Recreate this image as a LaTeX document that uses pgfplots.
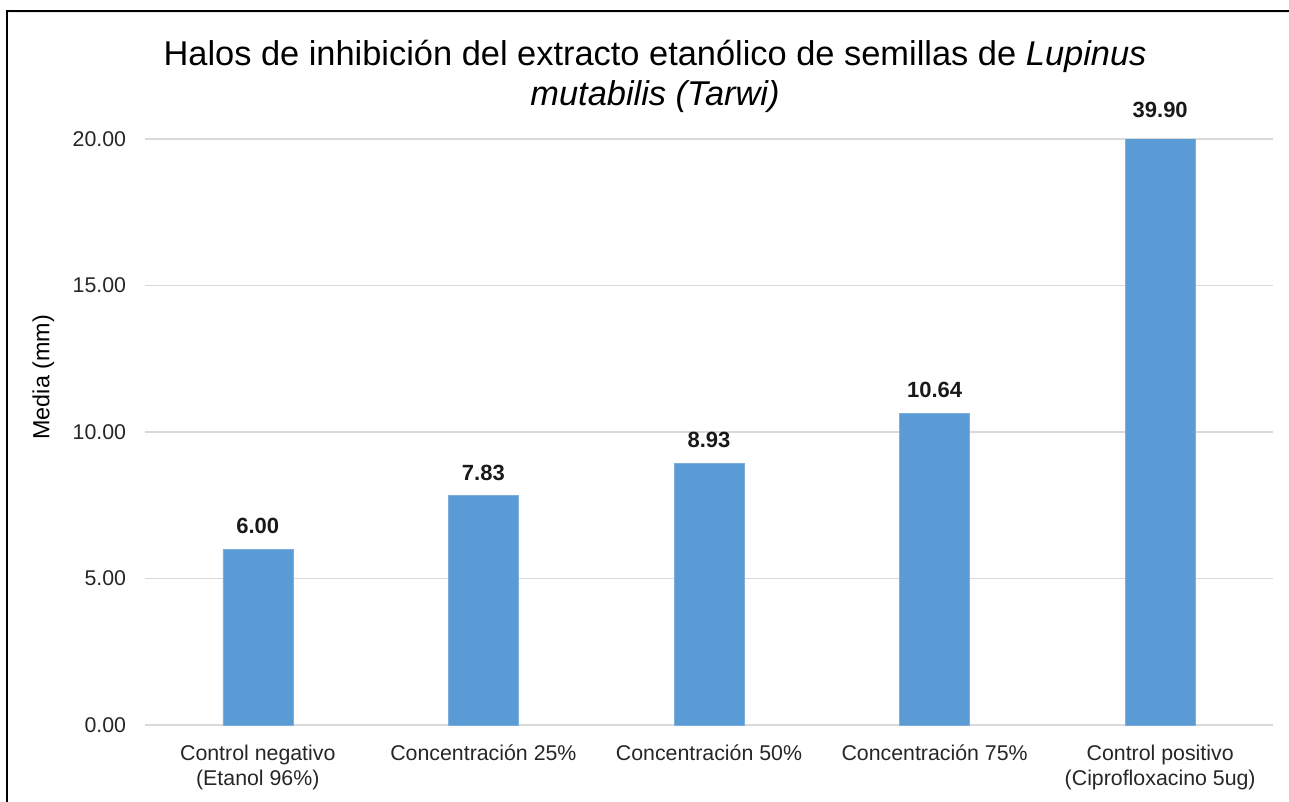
\documentclass[border=0pt]{standalone}
\usepackage{pgfplots}
\pgfplotsset{compat=1.18}
\usepackage{fontspec}
\setmainfont{Liberation Sans}
\definecolor{barblue}{RGB}{91,155,213}
\definecolor{gridgray}{RGB}{217,217,217}
\begin{document}
\begin{tikzpicture}
\path[use as bounding box] (0pt,0pt) rectangle (966.75pt,-601.5pt);
\draw[black, line width=1.5pt] (5.6pt,-601.5pt) -- (5.6pt,-7.9pt) -- (966.75pt,-7.9pt);
\draw[gridgray!60, line width=1pt] (6.5pt,-9.6pt) -- (966.75pt,-9.6pt);
\node[anchor=base, font={\fontsize{25.8}{30}\selectfont}] at (491.25pt,-49.5pt)
  {Halos de inhibición del extracto etanólico de semillas de \textit{Lupinus}};
\node[anchor=base, font={\fontsize{25.8}{30}\selectfont\itshape}] at (491.25pt,-79.5pt)
  {mutabilis (Tarwi)};
\node[rotate=90, font={\fontsize{17.5}{20}\selectfont}] at (32.5pt,-283pt) {Media (mm)};
\begin{axis}[
  at={(108.75pt,-543.75pt)}, anchor=south west,
  scale only axis, width=846pt, height=439.5pt,
  xmin=-0.5, xmax=4.5, ymin=0, ymax=20,
  axis line style={draw=none},
  ymajorgrids, grid style={gridgray, line width=1.1pt},
  ytick={0,5,10,15,20},
  major tick length=0pt,
  /pgf/number format/assume math mode=true,
  yticklabel={\pgfmathprintnumber[fixed,fixed zerofill,precision=2]{\tick}},
  yticklabel style={font={\fontsize{16}{19}\selectfont}, inner sep=0pt, xshift=-14pt, text=black!85},
  xtick={0,1,2,3,4},
  xticklabels={{Control negativo\\(Etanol 96\%)},{Concentración 25\%},{Concentración 50\%},{Concentración 75\%},{Control positivo\\(Ciprofloxacino 5ug)}},
  xticklabel style={font={\fontsize{16}{18.75}\selectfont}, align=center, anchor=north, inner sep=0pt, yshift=-15pt, text=black!85},
  clip=true,
]
\addplot[ybar, bar width=52.5pt, fill=barblue, draw=barblue!80!white] coordinates {
  (0,6.00) (1,7.83) (2,8.93) (3,10.64) (4,39.90)
};
\addplot[draw=none, mark=none, nodes near coords, point meta=explicit symbolic,
  nodes near coords style={font={\fontsize{16.5}{19}\selectfont\bfseries}, anchor=south, inner sep=0pt, yshift=11.25pt, text=black!90}]
  table[meta=label] {
x y label
0 6.00 6.00
1 7.83 7.83
2 8.93 8.93
3 10.64 10.64
};
\addplot[draw=none, mark=none, nodes near coords, point meta=explicit symbolic,
  nodes near coords style={font={\fontsize{16.5}{19}\selectfont\bfseries}, anchor=south, inner sep=0pt, yshift=15.5pt, text=black!90}]
  table[meta=label] {
x y label
4 20.00 39.90
};
\end{axis}
\end{tikzpicture}
\end{document}
